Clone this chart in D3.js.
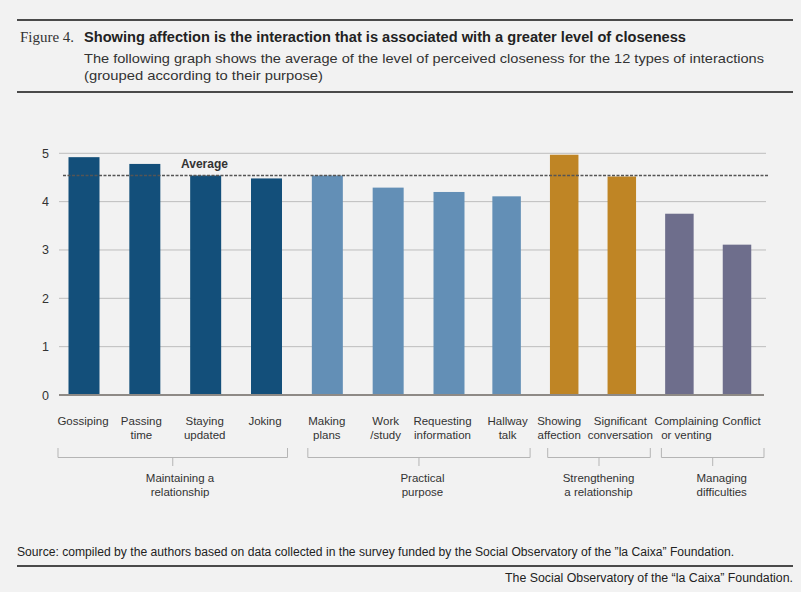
<html>
<head>
<meta charset="utf-8">
<style>
  body { margin: 0; background: #f2f2f2; font-family: "Liberation Sans", Arial, sans-serif; }
  svg { display: block; }
</style>
<script src="https://cdn.jsdelivr.net/npm/d3@7"></script>
</head>
<body>
<svg id="chart"></svg>
<script>
// data
let categories = ["Gossiping", "Passing time", "Staying updated", "Joking",
                  "Making plans", "Work /study", "Requesting information", "Hallway talk",
                  "Showing affection", "Significant conversation", "Complaining or venting", "Conflict"]
let labelLines = [["Gossiping"], ["Passing", "time"], ["Staying", "updated"], ["Joking"],
                  ["Making", "plans"], ["Work", "/study"], ["Requesting", "information"], ["Hallway", "talk"],
                  ["Showing", "affection"], ["Significant", "conversation"], ["Complaining", "or venting"], ["Conflict"]]
let closeness = [4.92, 4.78, 4.54, 4.48, 4.54, 4.29, 4.20, 4.11, 4.97, 4.52, 3.75, 3.11]
let groupOf = [0, 0, 0, 0, 1, 1, 1, 1, 2, 2, 3, 3]
let groupNames = [["Maintaining a", "relationship"], ["Practical", "purpose"],
                  ["Strengthening", "a relationship"], ["Managing", "difficulties"]]
let groupColors = ["#134f7a", "#638fb6", "#bf8525", "#6e6e8c"]
let average = 4.54
let yTicks = [0, 1, 2, 3, 4, 5]

// layout tweaks: label nudges and bracket paddings as seen in the figure
let labelDx = [-1, -3.5, -1, -1.5, -0.5, -2.5, -6.5, 1, -5, -1.5, 7, 4.5]
let bracketPad = [[26, 21], [19.5, 23.5], [16.5, 28.5], [18, 27]]
let groupLabelDx = [7.3, 3.5, -0.5, 9]

let width = 801, height = 592
let svg = d3.select("#chart").attr("width", width).attr("height", height)

svg.append("rect").attr("width", width).attr("height", height).attr("fill", "#f2f2f2")

// header
svg.append("line").attr("x1", 17).attr("x2", 793).attr("y1", 20).attr("y2", 20)
   .attr("stroke", "#4a4a4a").attr("stroke-width", 2)
svg.append("line").attr("x1", 17).attr("x2", 793).attr("y1", 92).attr("y2", 92)
   .attr("stroke", "#4a4a4a").attr("stroke-width", 2)

svg.append("text").attr("x", 20).attr("y", 42)
   .attr("font-family", "'Liberation Serif', 'DejaVu Serif', serif").attr("font-size", 15)
   .attr("fill", "#333").attr("textLength", 54).attr("lengthAdjust", "spacingAndGlyphs")
   .text("Figure 4.")
svg.append("text").attr("x", 84).attr("y", 42)
   .attr("font-size", 14).attr("font-weight", "bold").attr("fill", "#222")
   .attr("textLength", 602).attr("lengthAdjust", "spacingAndGlyphs")
   .text("Showing affection is the interaction that is associated with a greater level of closeness")
svg.append("text").attr("x", 84).attr("y", 63)
   .attr("font-size", 13).attr("fill", "#333")
   .attr("textLength", 680).attr("lengthAdjust", "spacingAndGlyphs")
   .text("The following graph shows the average of the level of perceived closeness for the 12 types of interactions")
svg.append("text").attr("x", 84).attr("y", 80)
   .attr("font-size", 13).attr("fill", "#333")
   .attr("textLength", 239).attr("lengthAdjust", "spacingAndGlyphs")
   .text("(grouped according to their purpose)")

// scales
let y = d3.scaleLinear().domain([0, 5]).range([395, 153.3])
// bar centres are spaced a little wider in the first two groups than in the last two
let x = d3.scaleLinear().domain([0, 6, 11]).range([84, 449, 737])
let barW = i => (i < 7 ? 31 : 28.5)

// grid
svg.append("g").selectAll("line").data(yTicks.filter(d => d > 0)).enter().append("line")
   .attr("x1", 59).attr("x2", 766)
   .attr("y1", d => y(d)).attr("y2", d => y(d))
   .attr("stroke", "#bdbdbd").attr("stroke-width", 1)

svg.append("g").selectAll("text").data(yTicks).enter().append("text")
   .attr("x", 49).attr("y", d => y(d) + 4.5)
   .attr("text-anchor", "end").attr("font-size", 12.5).attr("fill", "#333")
   .text(d => d)

// bars
svg.append("g").selectAll("rect").data(closeness).enter().append("rect")
   .attr("x", (d, i) => x(i) - barW(i) / 2)
   .attr("width", (d, i) => barW(i))
   .attr("y", d => y(d))
   .attr("height", d => y(0) - y(d))
   .attr("fill", (d, i) => groupColors[groupOf[i]])

// baseline
svg.append("line").attr("x1", 59).attr("x2", 764).attr("y1", y(0)).attr("y2", y(0))
   .attr("stroke", "#8e8a86").attr("stroke-width", 2)

// average line
svg.append("line").attr("x1", 63).attr("x2", 769).attr("y1", y(average)).attr("y2", y(average))
   .attr("stroke", "#555").attr("stroke-width", 1.5).attr("stroke-dasharray", "3,1.5")
svg.append("text").attr("x", 181).attr("y", y(average) - 8)
   .attr("font-size", 12).attr("font-weight", "bold").attr("fill", "#333")
   .text("Average")

// category labels
let labels = svg.append("g").selectAll("text").data(labelLines).enter().append("text")
   .attr("text-anchor", "middle").attr("font-size", 11.5).attr("fill", "#333")
labels.selectAll("tspan").data((d, i) => d.map(t => ({t, i}))).enter().append("tspan")
   .attr("x", d => x(d.i) + labelDx[d.i]).attr("y", (d, k) => 425 + k * 13.7)
   .text(d => d.t)

// group brackets
let groups = d3.range(groupNames.length).map(g => {
  let idx = d3.range(categories.length).filter(i => groupOf[i] === g)
  return {g, first: idx[0], last: idx[idx.length - 1]}
})
let bracket = svg.append("g").attr("stroke", "#b5b5b5").attr("fill", "none").attr("stroke-width", 1)
groups.forEach(d => {
  let x0 = x(d.first) - bracketPad[d.g][0], x1 = x(d.last) + bracketPad[d.g][1]
  bracket.append("path").attr("d", `M${x0},448V457.5H${x1}V448`)
  let xm = (x0 + x1) / 2
  bracket.append("line").attr("x1", xm).attr("x2", xm).attr("y1", 457.5).attr("y2", 466)
  let t = svg.append("text").attr("text-anchor", "middle").attr("font-size", 11.5).attr("fill", "#333")
  groupNames[d.g].forEach((line, k) => {
    t.append("tspan").attr("x", xm + groupLabelDx[d.g]).attr("y", 482 + k * 13.5).text(line)
  })
})

// source and footer
svg.append("text").attr("x", 17).attr("y", 556).attr("font-size", 12).attr("fill", "#222")
   .attr("textLength", 717).attr("lengthAdjust", "spacingAndGlyphs")
   .text("Source: compiled by the authors based on data collected in the survey funded by the Social Observatory of the \u201dla Caixa\u201d Foundation.")
svg.append("line").attr("x1", 17).attr("x2", 793).attr("y1", 566).attr("y2", 566)
   .attr("stroke", "#4a4a4a").attr("stroke-width", 2)
svg.append("text").attr("x", 793).attr("y", 582).attr("text-anchor", "end")
   .attr("font-size", 12).attr("fill", "#222")
   .attr("textLength", 288).attr("lengthAdjust", "spacingAndGlyphs")
   .text("The Social Observatory of the \u201cla Caixa\u201d Foundation.")
</script>
</body>
</html>
